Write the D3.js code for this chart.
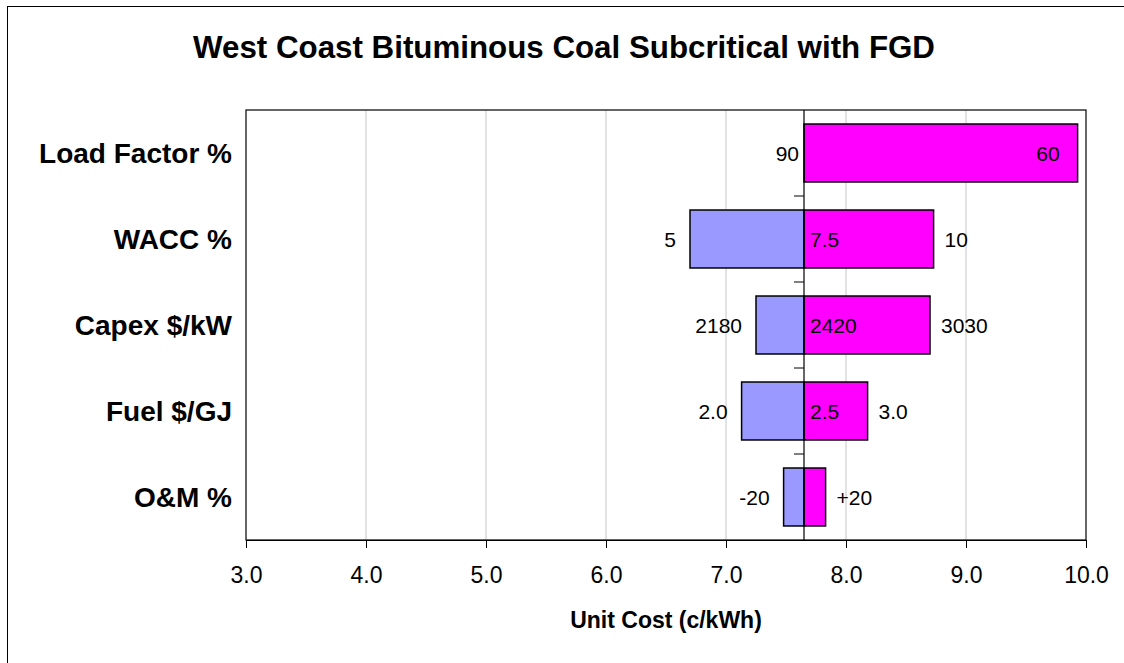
<!DOCTYPE html>
<html>
<head>
<meta charset="utf-8">
<script src="https://cdn.jsdelivr.net/npm/d3@7"></script>
<style>
  body { margin: 0; background: #fff; }
  svg text { font-family: "Liberation Sans", Arial, sans-serif; fill: #000; }
</style>
</head>
<body>
<div id="chart"></div>
<script>
(function () {
    var width = 1124,
        height = 663;

    // tornado data
    const categories = ["Load Factor %", "WACC %", "Capex $/kW", "Fuel $/GJ", "O&M %"];
    const baseCost = 7.65;
    const lowCost = [7.65, 6.70, 7.25, 7.13, 7.48];
    const highCost = [9.93, 8.73, 8.70, 8.18, 7.83];
    const lowLabels = ["90", "5", "2180", "2.0", "-20"];
    const midLabels = ["", "7.5", "2420", "2.5", ""];
    const highLabels = ["60", "10", "3030", "3.0", "+20"];
    const xTicks = [3, 4, 5, 6, 7, 8, 9, 10];

    const plot = { left: 246, right: 1086, top: 110, bottom: 540 };

    var svg = d3.select("#chart").append("svg")
        .attr("width", width)
        .attr("height", height);

    // outer chart border (right/bottom edges sit off the picture)
    svg.append("rect")
        .attr("x", 7.5).attr("y", 6.5)
        .attr("width", 1140).attr("height", 680)
        .attr("fill", "#fff")
        .attr("stroke", "#000")
        .attr("stroke-width", 1);

    svg.append("text")
        .attr("x", width / 2 + 2)
        .attr("y", 58)
        .attr("text-anchor", "middle")
        .style("font-size", "31.3px")
        .style("font-weight", "bold")
        .text("West Coast Bituminous Coal Subcritical with FGD");

    var x = d3.scaleLinear().domain([3, 10]).range([plot.left, plot.right]);
    var y = d3.scaleBand().domain(categories)
        .range([plot.top, plot.bottom])
        .paddingInner(0.326)
        .paddingOuter(0.163);

    // gridlines
    svg.append("g")
        .selectAll("line")
        .data(xTicks.slice(1, -1))
        .enter().append("line")
        .attr("x1", d => x(d)).attr("x2", d => x(d))
        .attr("y1", plot.top).attr("y2", plot.bottom)
        .attr("stroke", "#c6c6c6")
        .attr("stroke-width", 1);

    // plot frame
    svg.append("rect")
        .attr("x", plot.left).attr("y", plot.top)
        .attr("width", plot.right - plot.left)
        .attr("height", plot.bottom - plot.top)
        .attr("fill", "none")
        .attr("stroke", "#000")
        .attr("stroke-width", 1.2);

    var rows = categories.map((c, i) => ({
        cat: c, lo: lowCost[i], hi: highCost[i],
        loLab: lowLabels[i], midLab: midLabels[i], hiLab: highLabels[i]
    }));

    // low side bars (blue)
    svg.append("g").selectAll("rect")
        .data(rows.filter(d => d.lo < baseCost))
        .enter().append("rect")
        .attr("x", d => x(d.lo))
        .attr("y", d => y(d.cat))
        .attr("width", d => x(baseCost) - x(d.lo))
        .attr("height", y.bandwidth())
        .attr("fill", "#9999ff")
        .attr("stroke", "#000")
        .attr("stroke-width", 1.5);

    // high side bars (magenta)
    svg.append("g").selectAll("rect")
        .data(rows)
        .enter().append("rect")
        .attr("x", x(baseCost))
        .attr("y", d => y(d.cat))
        .attr("width", d => x(d.hi) - x(baseCost))
        .attr("height", y.bandwidth())
        .attr("fill", "#ff00ff")
        .attr("stroke", "#000")
        .attr("stroke-width", 1.5);

    // base case axis with ticks between categories
    svg.append("line")
        .attr("x1", x(baseCost)).attr("x2", x(baseCost))
        .attr("y1", plot.top).attr("y2", plot.bottom)
        .attr("stroke", "#000")
        .attr("stroke-width", 1.2);

    var gap = y.step() * y.paddingInner() / 2;
    svg.append("g").selectAll("line")
        .data(categories.slice(0, -1))
        .enter().append("line")
        .attr("x1", x(baseCost) - 10).attr("x2", x(baseCost))
        .attr("y1", d => y(d) + y.bandwidth() + gap)
        .attr("y2", d => y(d) + y.bandwidth() + gap)
        .attr("stroke", "#000")
        .attr("stroke-width", 1);

    // data labels
    var labels = svg.append("g").style("font-size", "21px");
    labels.selectAll(".lo")
        .data(rows).enter().append("text")
        .attr("x", d => x(d.lo) - (d.lo < baseCost ? 14 : 5))
        .attr("y", d => y(d.cat) + y.bandwidth() / 2)
        .attr("dy", "0.36em")
        .attr("text-anchor", "end")
        .text(d => d.loLab);

    labels.selectAll(".mid")
        .data(rows).enter().append("text")
        .attr("x", x(baseCost) + 6)
        .attr("y", d => y(d.cat) + y.bandwidth() / 2)
        .attr("dy", "0.36em")
        .text(d => d.midLab);

    labels.selectAll(".hi")
        .data(rows).enter().append("text")
        .attr("x", d => x(d.hi) + 60 > plot.right ? x(d.hi) - 18 : x(d.hi) + 11)
        .attr("y", d => y(d.cat) + y.bandwidth() / 2)
        .attr("dy", "0.36em")
        .attr("text-anchor", d => x(d.hi) + 60 > plot.right ? "end" : "start")
        .text(d => d.hiLab);

    // category names
    svg.append("g").selectAll("text")
        .data(categories)
        .enter().append("text")
        .attr("x", 232)
        .attr("y", d => y(d) + y.bandwidth() / 2)
        .attr("dy", "0.35em")
        .attr("text-anchor", "end")
        .style("font-size", "28px")
        .style("font-weight", "bold")
        .text(d => d);

    // x axis
    var xAxis = svg.append("g")
        .attr("transform", "translate(0," + plot.bottom + ")")
        .call(d3.axisBottom(x)
            .tickValues(xTicks)
            .tickFormat(d3.format(".1f"))
            .tickSize(8)
            .tickSizeOuter(0)
            .tickPadding(19));
    xAxis.select(".domain").attr("stroke", "#000").attr("stroke-width", 1.2);
    xAxis.selectAll(".tick line").attr("stroke", "#000");
    xAxis.selectAll(".tick text")
        .style("font-size", "23px")
        .style("font-family", "'Liberation Sans', Arial, sans-serif")
        .attr("fill", "#000");

    svg.append("text")
        .attr("x", (plot.left + plot.right) / 2)
        .attr("y", 628)
        .attr("text-anchor", "middle")
        .style("font-size", "23px")
        .style("font-weight", "bold")
        .text("Unit Cost (c/kWh)");
}());
</script>
</body>
</html>
